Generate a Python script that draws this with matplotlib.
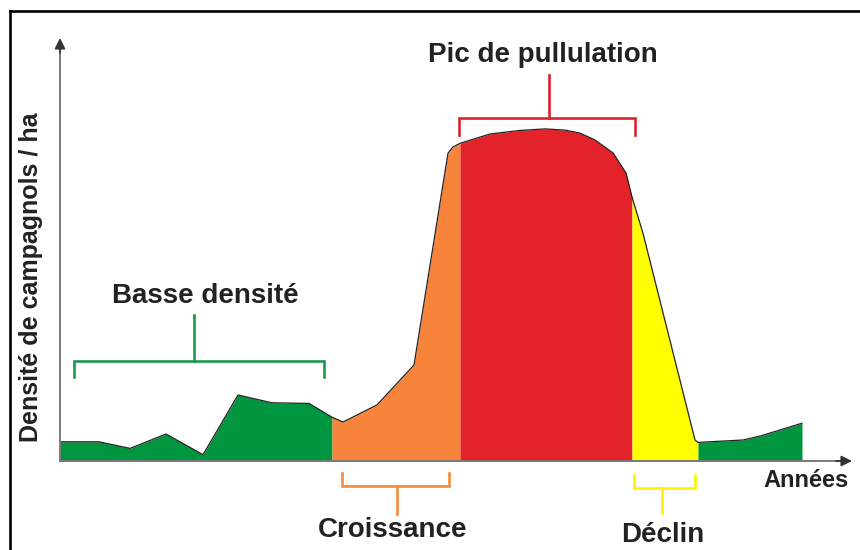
import matplotlib
matplotlib.use("Agg")
import matplotlib.pyplot as plt
from matplotlib.lines import Line2D
import numpy as np

# ---- data (x: years, y: density) ----
years = [0.0, 3.9, 7.0, 10.6, 14.3, 17.8, 21.2, 24.9, 27.2, 28.3, 31.7, 35.4,
         38.8, 39.3, 40.0, 43.0, 46.0, 48.5, 50.5, 52.0, 53.5, 55.3, 56.6,
         57.2, 58.3, 63.5, 63.8, 68.3, 70.0, 74.2]
density = [6.4, 6.4, 4.2, 9.0, 2.1, 22.0, 19.4, 19.2, 14.6, 13.0, 18.7, 32.0,
           102.6, 104.7, 105.9, 109.0, 110.2, 110.7, 110.3, 109.3, 107.0, 102.7,
           96.0, 88.0, 75.9, 7.0, 6.2, 7.0, 8.3, 12.6]

# phase boundaries (years) and colours
phase_bounds = [0.0, 27.2, 40.0, 57.2, 63.8, 74.2]
phase_colors = ["#00963f", "#f7843a", "#e42229", "#ffff00", "#00963f"]

# brackets
bracket_labels = ["Basse densité", "Pic de pullulation", "Croissance", "Déclin"]
bracket_left = [1.36, 39.9, 28.2, 57.4]
bracket_right = [26.35, 57.5, 38.9, 63.5]
bracket_bar = [33.4, 114.4, -8.2, -9.1]
bracket_tick = [28.1, 108.7, -3.9, -4.7]
bracket_stem_x = [13.4, 48.85, 33.7, 60.2]
bracket_stem_end = [48.7, 128.8, -17.8, -17.4]
label_x = [14.5, 48.25, 33.3, 60.25]
label_y = [52.6, 133.0, -25.3, -26.9]
bracket_colors = ["#1a9a4a", "#d9232e", "#f58a3c", "#fff200"]

x_label = "Années"
y_label = "Densité de campagnols / ha"

# ---- figure ----
W, H = 860, 550
fig = plt.figure(figsize=(W / 100, H / 100), dpi=100)
fig.patch.set_facecolor("white")

left_px, right_px, base_px, top_px = 60, 852, 461, 38
ax = fig.add_axes([left_px / W, (H - base_px) / H,
                   (right_px - left_px) / W, (base_px - top_px) / H])
ax.set_xlim(0, (right_px - left_px) / 10)
ax.set_ylim(0, (base_px - top_px) / 3)
ax.axis("off")

x = np.array(years)
y = np.array(density)

# coloured phases
for i, c in enumerate(phase_colors):
    a, b = phase_bounds[i], phase_bounds[i + 1]
    m = (x >= a - 1e-9) & (x <= b + 1e-9)
    ax.fill_between(x[m], 0, y[m], color=c, linewidth=0, zorder=2)

# outline of the curve
ax.plot(x, y, color="#222222", lw=0.9, zorder=3, solid_joinstyle="round",
        solid_capstyle="round")

# axes with arrows (grey shaft, dark head)
xmax, ymax = ax.get_xlim()[1], ax.get_ylim()[1]
shaft_col = "#7a7a7a"
head_col = "#333333"
ax.plot([0, 0], [0, ymax - 3], color=shaft_col, lw=1.4, clip_on=False, zorder=4)
ax.plot([0, xmax - 1], [0, 0], color=shaft_col, lw=1.4, clip_on=False, zorder=4)
ax.annotate("", xy=(0, ymax), xytext=(0, ymax - 5),
            arrowprops=dict(arrowstyle="-|>", color=head_col, lw=1.2,
                            mutation_scale=16, shrinkA=0, shrinkB=0),
            annotation_clip=False, zorder=5)
ax.annotate("", xy=(xmax, 0), xytext=(xmax - 1.6, 0),
            arrowprops=dict(arrowstyle="-|>", color=head_col, lw=1.2,
                            mutation_scale=16, shrinkA=0, shrinkB=0),
            annotation_clip=False, zorder=5)

font = "Liberation Sans"
txt_col = "#222222"

# brackets and labels
for i in range(len(bracket_labels)):
    c = bracket_colors[i]
    l, r = bracket_left[i], bracket_right[i]
    bar, tk = bracket_bar[i], bracket_tick[i]
    ax.plot([l, l, r, r], [tk, bar, bar, tk], color=c, lw=1.9,
            clip_on=False, zorder=5, solid_joinstyle="miter")
    ax.plot([bracket_stem_x[i]] * 2, [bar, bracket_stem_end[i]], color=c,
            lw=1.9, clip_on=False, zorder=5)
    ax.text(label_x[i], label_y[i], bracket_labels[i], ha="center",
            va="baseline", fontsize=20, fontweight="bold", family=font,
            color=txt_col, clip_on=False)

# axis labels
ax.text(74.65, -8.6, x_label, ha="center", va="baseline", fontsize=17,
        fontweight="bold", family=font, color=txt_col, clip_on=False)
fig.text(31 / W, 1 - 277.5 / H, y_label, rotation=90, ha="center",
         va="center", fontsize=18, fontweight="bold", family=font,
         color=txt_col)

# frame (left and top edges)
fig.add_artist(Line2D([9.5 / W, 9.5 / W], [0, 1 - 10.5 / H],
                      transform=fig.transFigure, color="black", lw=1.9))
fig.add_artist(Line2D([9.5 / W, 1], [1 - 10.5 / H, 1 - 10.5 / H],
                      transform=fig.transFigure, color="black", lw=1.9))

fig.savefig("out.png", dpi=100)
